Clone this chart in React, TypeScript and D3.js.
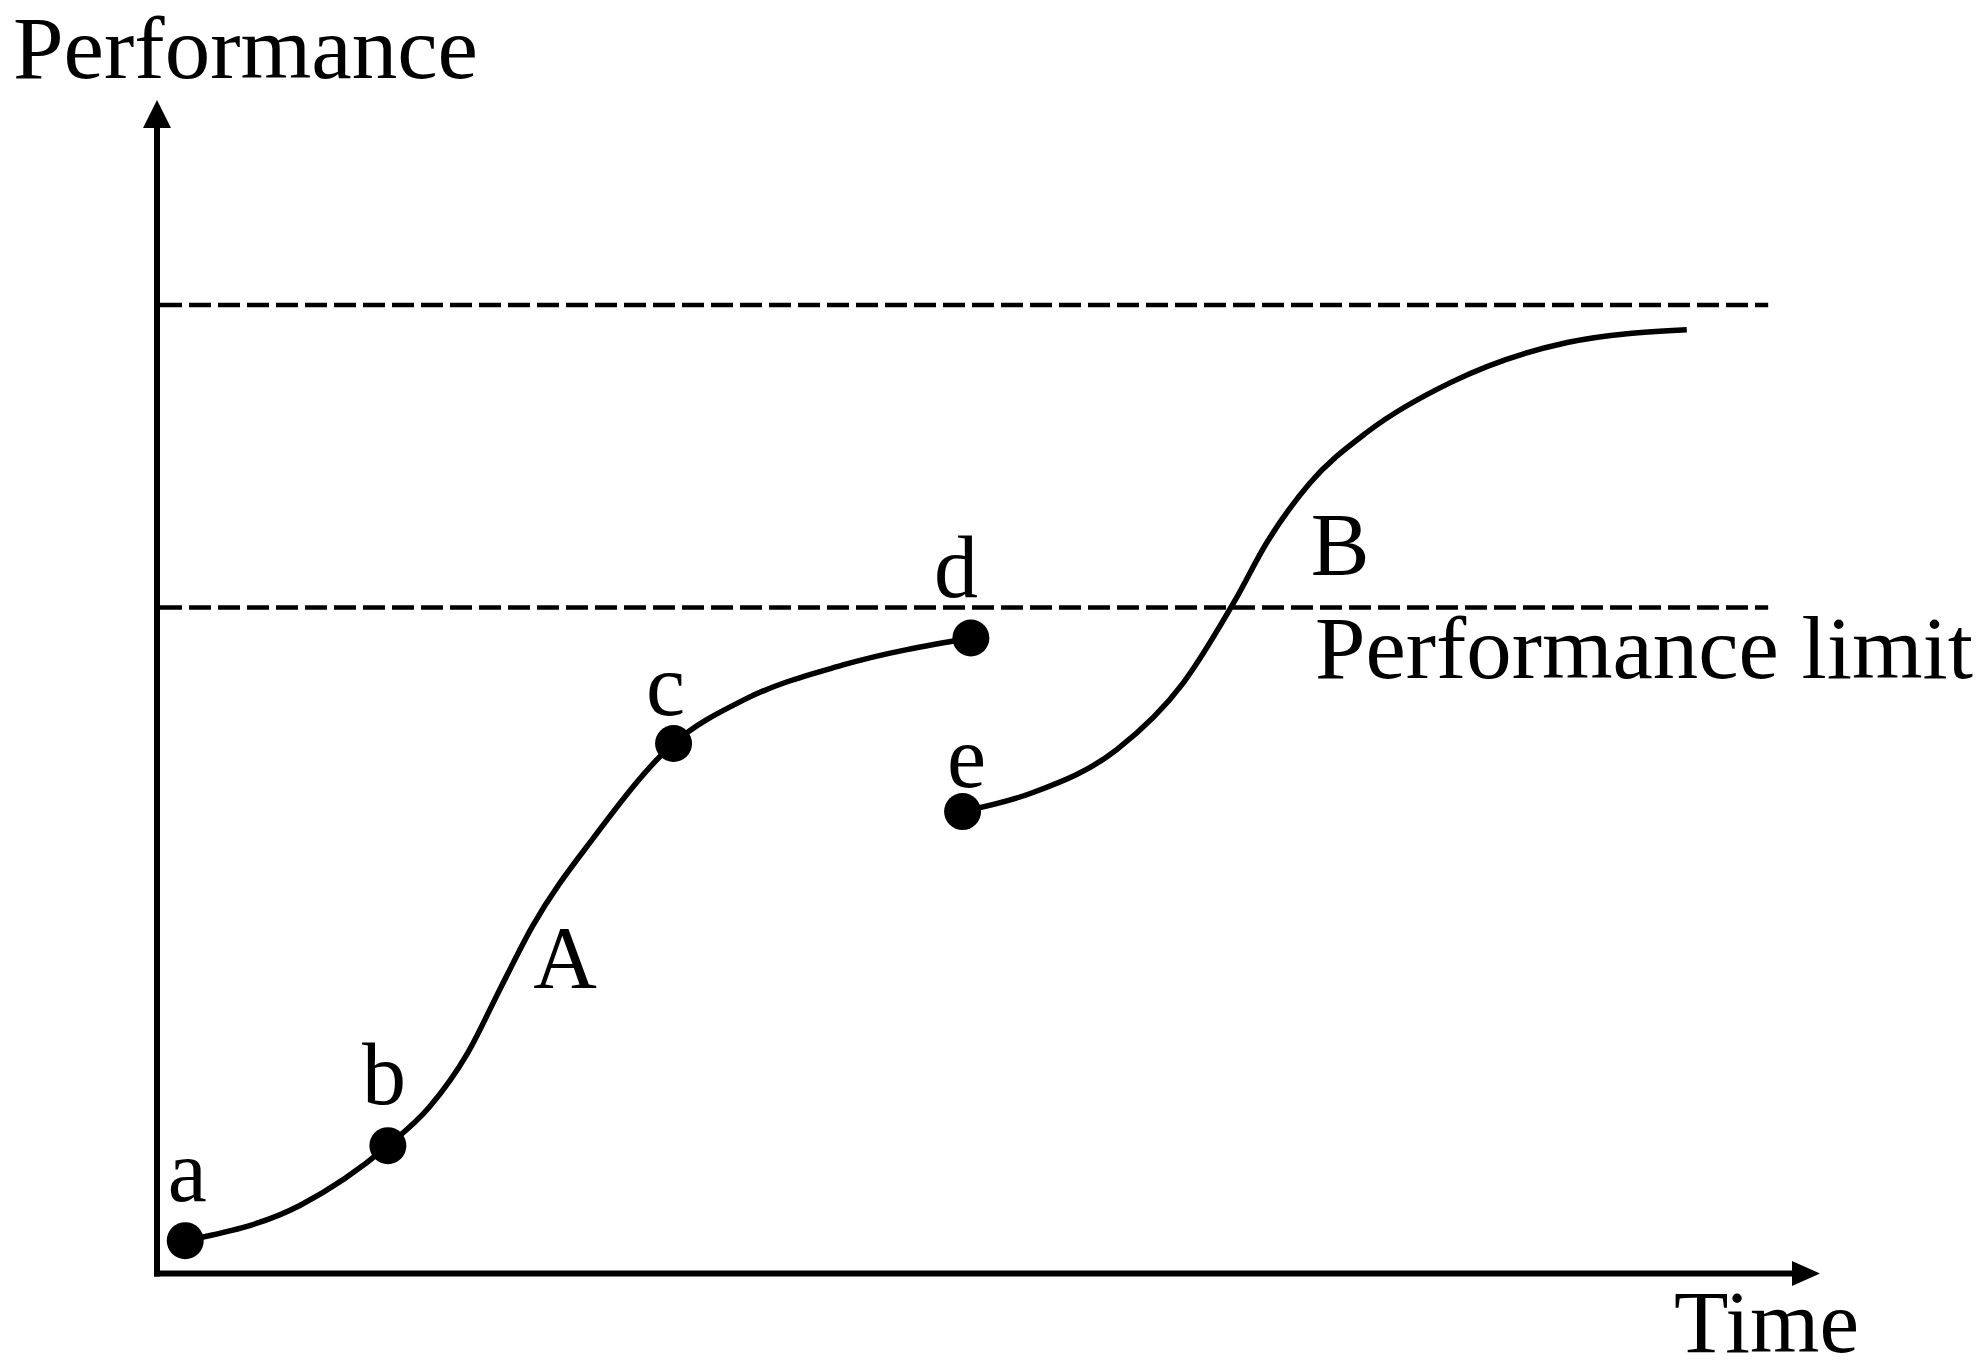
import React from "react";
import * as d3 from "d3";

// Curve A (time, performance) in abstract units
const curveATime = [0.17, 0.86, 1.39, 1.64, 1.87, 2.07, 2.26, 2.63, 3.11, 3.53, 4.13, 4.9];
const curveAPerf = [0.28, 0.58, 1.09, 1.42, 1.88, 2.44, 2.96, 3.72, 4.52, 4.89, 5.19, 5.42];

// Curve B
const curveBTime = [4.85, 5.27, 5.78, 6.18, 6.49, 6.68, 6.94, 7.29, 7.79, 8.49, 9.21];
const curveBPerf = [3.94, 4.1, 4.47, 5.04, 5.74, 6.23, 6.74, 7.18, 7.6, 7.94, 8.05];

// Key points
const pointLabels = ["a", "b", "c", "d", "e"];
const pointTime = [0.17, 1.39, 3.11, 4.9, 4.85];
const pointPerf = [0.28, 1.09, 4.52, 5.42, 3.94];

// Reference levels (dashed)
const levelNames = ["upper", "Performance limit"];
const levelPerf = [8.26, 5.68];
const levelEnd = 9.7;

const W = 1987;
const H = 1370;

const x = d3.scaleLinear().domain([0, 10]).range([157, 1818]);
const y = d3.scaleLinear().domain([0, 10]).range([1273.5, 101]);

const line = d3
  .line<[number, number]>()
  .x((d) => x(d[0]))
  .y((d) => y(d[1]))
  .curve(d3.curveMonotoneX);

const font = "'Liberation Serif', 'Times New Roman', serif";

export default function App() {
  const dataA: [number, number][] = curveATime.map((t, i) => [t, curveAPerf[i]]);
  const dataB: [number, number][] = curveBTime.map((t, i) => [t, curveBPerf[i]]);

  const x0 = x(0);
  const y0 = y(0);

  const labelOffsets: Record<string, [number, number]> = {
    a: [2, -40],
    b: [-4, -42],
    c: [-8, -29],
    d: [-15, -41],
    e: [4, -25],
  };

  return (
    <svg
      width={W}
      height={H}
      viewBox={`0 0 ${W} ${H}`}
      style={{ position: "absolute", left: 0, top: 0, background: "#fff" }}
    >
      <rect x={0} y={0} width={W} height={H} fill="#fff" />
      {/* dashed levels */}
      {levelPerf.map((p, i) => (
        <line
          key={levelNames[i]}
          x1={x0 + 3}
          x2={x(levelEnd)}
          y1={y(p)}
          y2={y(p)}
          stroke="#000"
          strokeWidth={4.5}
          strokeDasharray="22 7"
        />
      ))}
      {/* axes */}
      <line x1={x0} x2={x0} y1={y0 + 3} y2={128} stroke="#000" strokeWidth={6} />
      <line x1={x0 - 3} x2={1792} y1={y0} y2={y0} stroke="#000" strokeWidth={6} />
      <path d={`M${x0},${100} L${x0 - 14},${128} L${x0 + 14},${128} Z`} fill="#000" />
      <path d={`M1820,${y0} L1792,${y0 - 12.5} L1792,${y0 + 12.5} Z`} fill="#000" />

      {/* curves */}
      <path d={line(dataA) || ""} fill="none" stroke="#000" strokeWidth={5.5} />
      <path d={line(dataB) || ""} fill="none" stroke="#000" strokeWidth={5.5} />

      {/* points */}
      {pointLabels.map((l, i) => (
        <circle key={l} cx={x(pointTime[i])} cy={y(pointPerf[i])} r={18.5} fill="#000" />
      ))}
      {pointLabels.map((l, i) => (
        <text
          key={"t" + l}
          x={x(pointTime[i]) + labelOffsets[l][0]}
          y={y(pointPerf[i]) + labelOffsets[l][1]}
          fontFamily={font}
          fontSize={88}
          textAnchor="middle"
        >
          {l}
        </text>
      ))}

      {/* curve labels */}
      <text x={565} y={987} fontFamily={font} fontSize={88} textAnchor="middle">A</text>
      <text x={1340} y={574} fontFamily={font} fontSize={88} textAnchor="middle">B</text>
      <text
        x={1315}
        y={678}
        fontFamily={font}
        fontSize={88}
        textLength={658}
        lengthAdjust="spacingAndGlyphs"
      >
        Performance limit
      </text>

      {/* axis titles */}
      <text x={13} y={78} fontFamily={font} fontSize={88} textLength={465} lengthAdjust="spacingAndGlyphs">
        Performance
      </text>
      <text x={1674} y={1352} fontFamily={font} fontSize={88} textLength={185} lengthAdjust="spacingAndGlyphs">
        Time
      </text>
    </svg>
  );
}
